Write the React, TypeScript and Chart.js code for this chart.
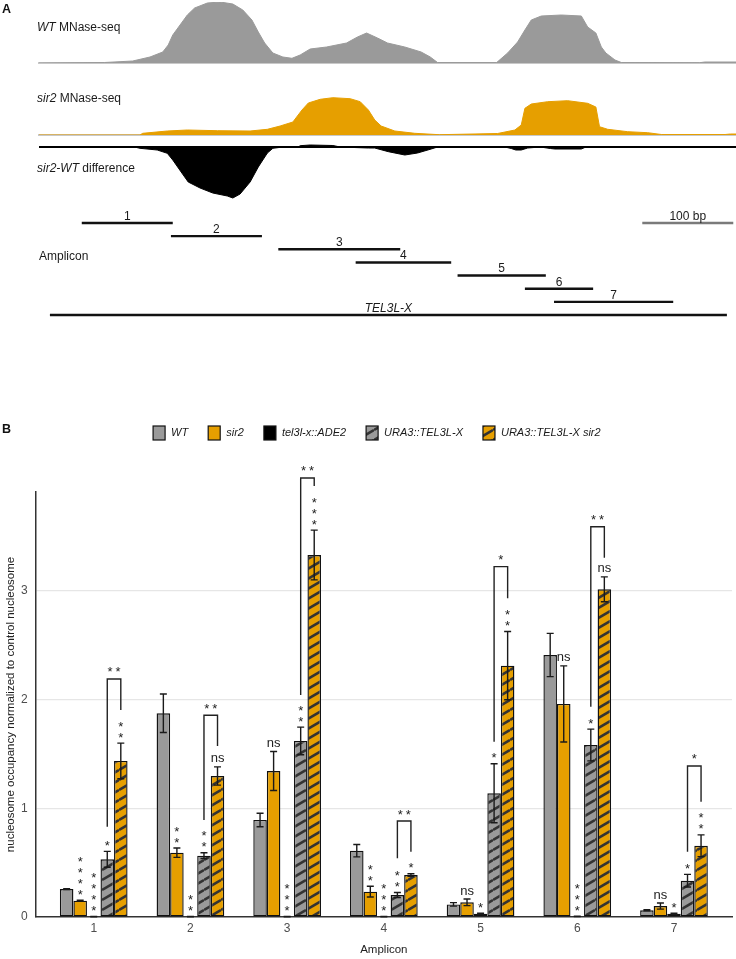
import React, { useEffect, useRef } from 'react';
import { Chart, registerables } from 'chart.js';

Chart.register(...registerables);

const FONT = "'Liberation Sans', Arial, Helvetica, sans-serif";
const W = 736;

// ---------------- Panel A: MNase-seq tracks (bp positions / signal) ----------------
const wtBp = [0, 72, 103, 122, 136, 142, 147, 155, 163, 171, 185, 199, 213, 224, 234, 241, 248, 257, 268, 278, 287, 298, 316, 338, 350, 360, 372, 383, 402, 420, 430, 438, 503, 515, 526, 534, 541, 552, 574, 596, 603, 612, 618, 623, 633, 640, 726, 732, 766];
const wtSignal = [0, 0.5, 2, 6, 11, 18, 28, 38, 48, 55, 60, 61, 59, 53, 43, 31, 20, 10, 6, 4.7, 8, 14, 16, 20, 26, 30, 25, 20, 16, 11, 6, 0.5, 0.5, 10, 21, 33, 43, 47, 48, 47, 36, 30, 16, 10, 3, 0.5, 0.3, 1, 1];

const sir2Bp = [0, 111, 114, 141, 163, 196, 232, 251, 265, 279, 289, 296, 309, 323, 342, 353, 362, 369, 376, 391, 413, 440, 504, 523, 530, 534, 541, 559, 581, 603, 612, 616, 625, 647, 669, 684, 754, 760, 766];
const sir2Signal = [0, 0, 1.7, 4, 5, 4.3, 4, 5.7, 9, 13, 25, 32, 35.7, 37.3, 36.3, 33.3, 25, 15, 9, 4, 1.7, 0.3, 1.5, 5, 10, 26.7, 31, 33.3, 34.3, 31.7, 28, 8.3, 5.7, 3.3, 2.3, 0.5, 0.5, 1, 1];

const diffBp = [0, 105, 111, 130, 141, 147, 157, 164, 177, 191, 207, 213, 221, 232, 241, 251, 257, 268, 285, 287, 298, 323, 331, 362, 369, 384, 402, 416, 431, 438, 512, 519, 524, 530, 537, 551, 562, 567, 596, 601, 766];
const diffSignal = [0, 0, -1.3, -3, -6.3, -13, -26, -35, -41, -46, -49, -51, -47, -35, -20, -6, -1.3, 0, 0, 1.3, 2, 1.5, 0, -1, -1, -4.7, -8, -6, -2, 0, 0, -1.5, -3, -3, -1, 0, -1.5, -2, -2, 0, 0];

const ampliconLabels = ['1', '2', '3', '4', '5', '6', '7'];
const ampliconStart = [47, 145, 263, 348, 460, 534, 566];
const ampliconEnd = [147, 245, 397, 453, 557, 609, 697];
const locusLabel = 'TEL3L-X';
const locusStart = 12;
const locusEnd = 756;
const scaleBarStart = 663;
const scaleBarLen = 100;

// ---------------- Panel B: nucleosome occupancy ----------------
const amplicons = [1, 2, 3, 4, 5, 6, 7];
const seriesLabels = ['WT', 'sir2', 'tel3l-x::ADE2', 'URA3::TEL3L-X', 'URA3::TEL3L-X sir2'];
const wtOcc = [0.257, 1.872, 0.892, 0.61, 0.116, 2.408, 0.062];
const wtErr = [0.004, 0.177, 0.062, 0.057, 0.016, 0.199, 0.006];
const sir2Occ = [0.15, 0.591, 1.342, 0.233, 0.135, 1.958, 0.1];
const sir2Err = [0.004, 0.043, 0.179, 0.049, 0.03, 0.35, 0.028];
const ade2Occ = [0.004, 0.004, 0.004, 0.004, 0.03, 0.006, 0.03];
const ade2Err = [0.002, 0.002, 0.002, 0.002, 0.005, 0.002, 0.005];
const uraOcc = [0.53, 0.564, 1.618, 0.202, 1.137, 1.581, 0.334];
const uraErr = [0.073, 0.026, 0.127, 0.023, 0.271, 0.146, 0.058];
const uraSir2Occ = [1.434, 1.296, 3.327, 0.386, 2.31, 3.012, 0.655];
const uraSir2Err = [0.164, 0.084, 0.229, 0.012, 0.314, 0.114, 0.1];

const sir2Sig = ['****', '**', 'ns', '**', 'ns', 'ns', 'ns'];
const ade2Sig = ['****', '**', '***', '***', '*', '***', '*'];
const uraSig = ['*', '**', '**', '**', '*', '*', '*'];
const uraSir2Sig = ['**', 'ns', '***', '*', '**', 'ns', '**'];

const bracketTop = [2.188, 1.854, 4.035, 0.882, 3.22, 3.587, 1.388];
const bracketLeftEnd = [0.83, 0.892, 2.04, 0.54, 1.611, 1.933, 0.6];
const bracketRightEnd = [1.903, 1.572, 3.96, 0.6, 2.929, 3.302, 1.06];
const bracketSig = ['**', '**', '**', '**', '*', '**', '*'];

const yTicks = [0, 1, 2, 3];
const yMax = 3.906;
const yTitle = 'nucleosome occupancy normalized to control nucleosome';
const xTitle = 'Amplicon';

// ---------------- helpers ----------------
type Run = [string, boolean];

function drawRuns(ctx: CanvasRenderingContext2D, runs: Run[], x: number, y: number, size: number, color: string, align: 'left' | 'center' = 'left', bold = false) {
  ctx.save();
  ctx.fillStyle = color;
  ctx.textBaseline = 'middle';
  ctx.textAlign = 'left';
  const fonts = runs.map(([, it]) => `${it ? 'italic ' : ''}${bold ? 'bold ' : ''}${size}px ${FONT}`);
  let total = 0;
  const widths = runs.map(([t], i) => {
    ctx.font = fonts[i];
    const w = ctx.measureText(t).width;
    total += w;
    return w;
  });
  let cx = align === 'center' ? x - total / 2 : x;
  runs.forEach(([t], i) => {
    ctx.font = fonts[i];
    ctx.fillText(t, cx, y);
    cx += widths[i];
  });
  ctx.restore();
  return total;
}

function hatch(base: string): CanvasPattern {
  const c = document.createElement('canvas');
  const tw = 17;
  const th = 10;
  c.width = tw;
  c.height = th;
  const g = c.getContext('2d')!;
  g.fillStyle = base;
  g.fillRect(0, 0, tw, th);
  g.strokeStyle = '#333333';
  g.lineWidth = 2.6;
  for (const k of [-1, 0, 1]) {
    g.beginPath();
    g.moveTo(0, th + k * th);
    g.lineTo(tw, k * th);
    g.stroke();
  }
  return g.createPattern(c, 'repeat')!;
}

function trackChart(canvas: HTMLCanvasElement, bp: number[], sig: number[], color: string, yMin: number, yMaxV: number, padTop: number, padBottom: number, baseline: 'gray' | 'black', runs: Run[], labelY: number, extra?: (ctx: CanvasRenderingContext2D) => void) {
  return new Chart(canvas, {
    type: 'line',
    data: {
      datasets: [{
        data: bp.map((x, i) => ({ x, y: sig[i] })),
        fill: 'origin',
        backgroundColor: color,
        borderColor: color,
        borderWidth: 1,
        pointRadius: 0,
        tension: 0,
      }],
    },
    options: {
      responsive: false,
      animation: false,
      devicePixelRatio: 1,
      events: [],
      layout: { padding: { left: 39, right: 0, top: padTop, bottom: padBottom } },
      plugins: { legend: { display: false }, tooltip: { enabled: false } },
      scales: {
        x: {
          type: 'linear', min: 0, max: 766,
          display: baseline === 'gray',
          ticks: { display: false },
          grid: { display: false, drawTicks: false },
          border: { display: true, color: '#c8c8c8', width: 2 },
          afterFit: (s: any) => { s.height = 0; },
        },
        y: {
          type: 'linear', min: yMin, max: yMaxV,
          display: baseline === 'black',
          afterFit: (s: any) => { s.width = 0; },
          afterBuildTicks: (s: any) => { s.ticks = [{ value: 0 }]; },
          ticks: { display: false },
          grid: { color: '#000000', lineWidth: 2, drawTicks: false },
          border: { display: false },
        },
      },
    } as any,
    plugins: [{
      id: 'trackLabel',
      afterDraw(c: any) {
        drawRuns(c.ctx, runs, 37, labelY, 12, '#1a1a1a');
        if (extra) extra(c.ctx);
      },
    }],
  });
}

export default function App() {
  const wtRef = useRef<HTMLCanvasElement>(null);
  const sirRef = useRef<HTMLCanvasElement>(null);
  const diffRef = useRef<HTMLCanvasElement>(null);
  const ampRef = useRef<HTMLCanvasElement>(null);
  const barRef = useRef<HTMLCanvasElement>(null);

  useEffect(() => {
    const charts: Chart[] = [];

    // ---- WT track (canvas top 0) ----
    charts.push(trackChart(wtRef.current!, wtBp, wtSignal, '#9a9a9a', 0, 61, 2, 3, 'gray', [['WT', true], [' MNase-seq', false]], 28, (ctx) => {
      ctx.save();
      ctx.fillStyle = '#111';
      ctx.font = `bold 12.5px ${FONT}`;
      ctx.textAlign = 'left';
      ctx.textBaseline = 'alphabetic';
      ctx.fillText('A', 2, 13);
      ctx.restore();
    }));
    // ---- sir2 track (canvas top 72) ----
    charts.push(trackChart(sirRef.current!, sir2Bp, sir2Signal, '#e69f00', 0, 61, 2, 3, 'gray', [['sir2', true], [' MNase-seq', false]], 27));
    // ---- difference track (canvas top 140) ----
    charts.push(trackChart(diffRef.current!, diffBp, diffSignal, '#000000', -52, 4, 3, 3, 'black', [['sir2-WT', true], [' difference', false]], 29));

    // ---- Amplicons (canvas top 205) ----
    const ampDatasets: any[] = ampliconLabels.map((lab, i) => ({
      data: [{ x: ampliconStart[i], y: i + 1 }, { x: ampliconEnd[i], y: i + 1 }],
      label: lab, italic: false,
      borderColor: '#111111', borderWidth: 2.4, pointRadius: 0, fill: false,
    }));
    ampDatasets.push({
      data: [{ x: locusStart, y: 8 }, { x: locusEnd, y: 8 }],
      label: locusLabel, italic: true,
      borderColor: '#111111', borderWidth: 2.4, pointRadius: 0, fill: false,
    });
    ampDatasets.push({
      data: [{ x: scaleBarStart, y: 1 }, { x: scaleBarStart + scaleBarLen, y: 1 }],
      label: `${scaleBarLen} bp`, italic: false,
      borderColor: '#7a7a7a', borderWidth: 2.4, pointRadius: 0, fill: false,
    });
    charts.push(new Chart(ampRef.current!, {
      type: 'line',
      data: { datasets: ampDatasets },
      options: {
        responsive: false, animation: false, devicePixelRatio: 1, events: [],
        layout: { padding: { left: 39, right: 0, top: 11.43, bottom: 8.43 } },
        plugins: { legend: { display: false }, tooltip: { enabled: false } },
        scales: {
          x: { type: 'linear', min: 0, max: 766, display: false },
          y: { type: 'linear', min: 0.5, max: 8.5, reverse: true, display: false },
        },
      } as any,
      plugins: [{
        id: 'ampLabels',
        afterDraw(c: any) {
          const ctx = c.ctx as CanvasRenderingContext2D;
          c.data.datasets.forEach((ds: any, i: number) => {
            const meta = c.getDatasetMeta(i);
            const p0 = meta.data[0];
            const p1 = meta.data[1];
            const mid = (p0.x + p1.x) / 2;
            drawRuns(ctx, [[ds.label, ds.italic]], mid, p0.y - 6.5, 12, '#1a1a1a', 'center');
          });
          drawRuns(ctx, [['Amplicon', false]], 39, 52, 12, '#1a1a1a');
        },
      }],
    }));

    // ---- Panel B bar chart (canvas top 400) ----
    const CANVAS_TOP = 400;
    const LEGEND_Y = 433 - CANVAS_TOP;
    const fills: any[] = ['#9a9a9a', '#e69f00', '#000000', hatch('#9a9a9a'), hatch('#e69f00')];
    const seriesOcc = [wtOcc, sir2Occ, ade2Occ, uraOcc, uraSir2Occ];
    const seriesErr = [wtErr, sir2Err, ade2Err, uraErr, uraSir2Err];
    const seriesSig: (string[] | null)[] = [null, sir2Sig, ade2Sig, uraSig, uraSir2Sig];

    const datasets: any[] = seriesLabels.map((lab, i) => ({
      label: lab,
      data: amplicons.map((a, j) => ({ x: a, y: seriesOcc[i][j] })),
      errors: seriesErr[i],
      sig: seriesSig[i],
      backgroundColor: fills[i],
      borderColor: '#111111',
      borderWidth: 1.4,
      borderSkipped: false,
      categoryPercentage: 0.7,
      barPercentage: 1.0,
    }));

    const starFont = `13px ${FONT}`;
    const drawStar = (ctx: CanvasRenderingContext2D, x: number, yc: number) => {
      ctx.font = starFont;
      ctx.textAlign = 'center';
      ctx.textBaseline = 'alphabetic';
      ctx.fillText('*', x, yc + 7.5);
    };

    charts.push(new Chart(barRef.current!, {
      type: 'bar',
      data: { datasets },
      options: {
        responsive: false, animation: false, devicePixelRatio: 1, events: [],
        layout: { padding: { left: 0, right: 4, top: 92, bottom: 0 } },
        plugins: { legend: { display: false }, tooltip: { enabled: false } },
        scales: {
          x: {
            type: 'linear', min: 0.4, max: 7.6, offset: false,
            afterBuildTicks: (s: any) => { s.ticks = amplicons.map((v) => ({ value: v })); },
            afterFit: (s: any) => { s.height = 42; },
            ticks: { color: '#4d4d4d', font: { family: FONT, size: 12 }, padding: 4, callback: (v: any) => String(v) },
            grid: { display: false, drawTicks: false, offset: false },
            border: { display: true, color: '#333333', width: 1.5 },
            title: { display: true, text: xTitle, color: '#222222', font: { family: FONT, size: 11.5 }, padding: { top: 0, bottom: 2 } },
          },
          y: {
            type: 'linear', min: 0, max: yMax,
            afterBuildTicks: (s: any) => { s.ticks = yTicks.map((v) => ({ value: v })); },
            afterFit: (s: any) => { s.width = 35.7; },
            ticks: { color: '#4d4d4d', font: { family: FONT, size: 12 }, padding: 8 },
            grid: {
              color: (ctx: any) => (ctx.tick && ctx.tick.value === 0 ? 'rgba(0,0,0,0)' : '#e6e6e6'),
              lineWidth: 1.2, drawTicks: false,
            },
            border: { display: true, color: '#333333', width: 1.5 },
            title: { display: true, text: yTitle, color: '#222222', font: { family: FONT, size: 11.5 }, padding: { top: 4, bottom: 0 } },
          },
        },
      } as any,
      plugins: [
        {
          id: 'errorBars',
          afterDatasetsDraw(c: any) {
            const ctx = c.ctx as CanvasRenderingContext2D;
            const ys = c.scales.y;
            ctx.save();
            ctx.strokeStyle = '#1a1a1a';
            ctx.lineWidth = 1.4;
            c.data.datasets.forEach((ds: any, i: number) => {
              const meta = c.getDatasetMeta(i);
              meta.data.forEach((bar: any, j: number) => {
                const v = ds.data[j].y;
                const e = ds.errors[j];
                const yT = ys.getPixelForValue(v + e);
                const yB = ys.getPixelForValue(Math.max(0, v - e));
                ctx.beginPath();
                ctx.moveTo(bar.x, yT); ctx.lineTo(bar.x, yB);
                ctx.moveTo(bar.x - 3.5, yT); ctx.lineTo(bar.x + 3.5, yT);
                ctx.moveTo(bar.x - 3.5, yB); ctx.lineTo(bar.x + 3.5, yB);
                ctx.stroke();
              });
            });
            ctx.restore();
          },
        },
        {
          id: 'annotations',
          afterDraw(c: any) {
            const ctx = c.ctx as CanvasRenderingContext2D;
            const ys = c.scales.y;
            ctx.save();
            ctx.fillStyle = '#222222';
            // per-bar significance labels
            c.data.datasets.forEach((ds: any, i: number) => {
              if (!ds.sig) return;
              const meta = c.getDatasetMeta(i);
              meta.data.forEach((bar: any, j: number) => {
                const lab = ds.sig[j];
                const top = ys.getPixelForValue(ds.data[j].y + ds.errors[j]);
                if (lab === 'ns') {
                  ctx.font = starFont;
                  ctx.textAlign = 'center';
                  ctx.textBaseline = 'alphabetic';
                  ctx.fillText('ns', bar.x, top - 7.8 + 3.4);
                } else {
                  for (let k = 0; k < lab.length; k++) drawStar(ctx, bar.x, top - 9 - k * 11);
                }
              });
            });
            // brackets between URA3::TEL3L-X and URA3::TEL3L-X sir2
            const mL = c.getDatasetMeta(3);
            const mR = c.getDatasetMeta(4);
            ctx.strokeStyle = '#222222';
            ctx.lineWidth = 1.4;
            amplicons.forEach((_, j) => {
              const xl = mL.data[j].x;
              const xr = mR.data[j].x;
              const yt = ys.getPixelForValue(bracketTop[j]);
              ctx.beginPath();
              ctx.moveTo(xl, ys.getPixelForValue(bracketLeftEnd[j]));
              ctx.lineTo(xl, yt);
              ctx.lineTo(xr, yt);
              ctx.lineTo(xr, ys.getPixelForValue(bracketRightEnd[j]));
              ctx.stroke();
              const n = bracketSig[j].length;
              const mid = (xl + xr) / 2;
              for (let k = 0; k < n; k++) drawStar(ctx, mid + (k - (n - 1) / 2) * 8, yt - 10);
            });
            // panel label
            ctx.fillStyle = '#111111';
            ctx.font = `bold 12.5px ${FONT}`;
            ctx.textAlign = 'left';
            ctx.textBaseline = 'alphabetic';
            ctx.fillText('B', 2, LEGEND_Y - 5 + 4.5);
            // legend
            const boxW = 12;
            const boxH = 14;
            const gapText = 6;
            const gapItem = 20;
            const legendSize = 11;
            ctx.font = `italic ${legendSize}px ${FONT}`;
            const widths = seriesLabels.map((l) => ctx.measureText(l).width);
            const total = widths.reduce((a, w) => a + boxW + gapText + w, 0) + gapItem * (seriesLabels.length - 1);
            const ca = c.chartArea;
            let x = (ca.left + ca.right) / 2 - 7 - total / 2;
            seriesLabels.forEach((l, i) => {
              ctx.fillStyle = fills[i];
              ctx.fillRect(x, LEGEND_Y - boxH / 2, boxW, boxH);
              ctx.strokeStyle = '#111111';
              ctx.lineWidth = 1.2;
              ctx.strokeRect(x, LEGEND_Y - boxH / 2, boxW, boxH);
              drawRuns(ctx, [[l, true]], x + boxW + gapText, LEGEND_Y, legendSize, '#1a1a1a');
              x += boxW + gapText + widths[i] + gapItem;
            });
            ctx.restore();
          },
        },
      ],
    }));

    return () => { charts.forEach((ch) => ch.destroy()); };
  }, []);

  const cv = (ref: React.RefObject<HTMLCanvasElement>, top: number, h: number) => (
    <canvas ref={ref} width={W} height={h} style={{ position: 'absolute', left: 0, top, width: W, height: h, display: 'block' }} />
  );

  return (
    <div style={{ position: 'absolute', left: 0, top: 0, width: W, height: 959, background: '#ffffff', overflow: 'hidden' }}>
      {cv(wtRef, 0, 66)}
      {cv(sirRef, 72, 66)}
      {cv(diffRef, 140, 62)}
      {cv(ampRef, 205, 125)}
      {cv(barRef, 400, 559)}
    </div>
  );
}
